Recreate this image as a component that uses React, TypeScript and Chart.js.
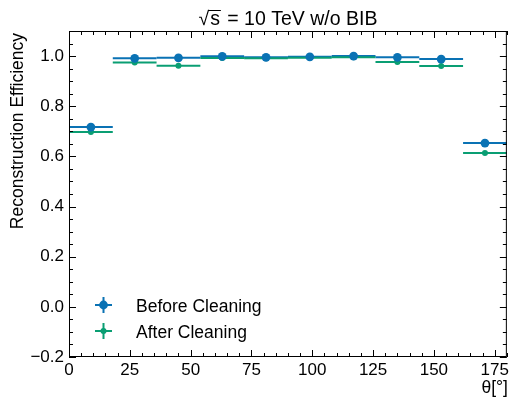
import React, { useEffect, useRef } from "react";
import { Chart, registerables } from "chart.js";
Chart.register(...registerables);

const binCenters = [9, 27, 45, 63, 81, 99, 117, 135, 153, 171];
const binHalfWidth = [9, 9, 9, 9, 9, 9, 9, 9, 9, 9];
const beforeCleaning = [0.717, 0.991, 0.993, 0.999, 0.995, 0.997, 1.0, 0.995, 0.988, 0.653];
const afterCleaning = [0.697, 0.974, 0.961, 0.992, 0.991, 0.993, 0.995, 0.976, 0.96, 0.613];
const xTickValues = [0, 25, 50, 75, 100, 125, 150, 175];
const yTickValues = [-0.2, 0, 0.2, 0.4, 0.6, 0.8, 1.0];

const BLUE = "#0a72b4";
const GREEN = "#0a9e73";
const FONT = "'Liberation Sans', Arial, sans-serif";

export default function App() {
  const ref = useRef<HTMLCanvasElement | null>(null);
  useEffect(() => {
    document.body.style.margin = "0";
    const canvas = ref.current!;
    const series = [
      { label: "Before Cleaning", data: beforeCleaning, color: BLUE, r: 4.4 },
      { label: "After Cleaning", data: afterCleaning, color: GREEN, r: 3 },
    ];
    const errorBars = {
      id: "errorBars",
      beforeDatasetsDraw(chart: any) {
        const ctx = chart.ctx;
        const xs = chart.scales.x;
        const ys = chart.scales.y;
        ctx.save();
        series.forEach((s) => {
          ctx.strokeStyle = s.color;
          ctx.lineWidth = 2;
          binCenters.forEach((c, i) => {
            const y = ys.getPixelForValue(s.data[i]);
            ctx.beginPath();
            ctx.moveTo(xs.getPixelForValue(c - binHalfWidth[i]), y);
            ctx.lineTo(xs.getPixelForValue(c + binHalfWidth[i]), y);
            ctx.stroke();
          });
        });
        ctx.restore();
      },
      afterDraw(chart: any) {
        const ctx = chart.ctx;
        const xs = chart.scales.x;
        const ys = chart.scales.y;
        const a = chart.chartArea;
        ctx.save();
        // frame
        ctx.strokeStyle = "#000";
        ctx.lineWidth = 1;
        ctx.strokeRect(a.left + 0.5, a.top + 0.5, a.right - a.left - 1, a.bottom - a.top - 1);
        // ticks
        ctx.beginPath();
        for (let v = 0; v <= 180; v += 5) {
          const x = Math.round(xs.getPixelForValue(v)) + 0.5;
          const len = v % 25 === 0 ? 7 : 4;
          ctx.moveTo(x, a.bottom);
          ctx.lineTo(x, a.bottom - len);
          ctx.moveTo(x, a.top);
          ctx.lineTo(x, a.top + len);
        }
        for (let k = -4; k <= 22; k++) {
          const v = k * 0.05;
          const y = Math.round(ys.getPixelForValue(v)) + 0.5;
          const len = k % 4 === 0 ? 7 : 4;
          ctx.moveTo(a.left, y);
          ctx.lineTo(a.left + len, y);
          ctx.moveTo(a.right, y);
          ctx.lineTo(a.right - len, y);
        }
        ctx.stroke();
        // title
        ctx.fillStyle = "#000";
        ctx.font = `19.5px ${FONT}`;
        ctx.textBaseline = "alphabetic";
        const p1 = "\u221As";
        const p2 = " = 10 TeV w/o BIB";
        const gap = 3;
        const w1 = ctx.measureText(p1).width + gap;
        const w2 = ctx.measureText(p2).width;
        const tx = (a.left + a.right) / 2 - (w1 + w2) / 2;
        const ty = 25;
        ctx.textAlign = "left";
        ctx.fillText("\u221A", tx, ty);
        const wr = ctx.measureText("\u221A").width;
        ctx.fillText("s", tx + wr + 1, ty);
        ctx.fillText(p2, tx + w1, ty);
        ctx.lineWidth = 1;
        ctx.beginPath();
        ctx.moveTo(tx + wr - 1, ty - 14.5);
        ctx.lineTo(tx + w1 - 1, ty - 14.5);
        ctx.stroke();
        // axis labels
        ctx.font = `17.5px ${FONT}`;
        ctx.textAlign = "right";
        ctx.textBaseline = "middle";
        ctx.fillText("\u03B8[\u00B0]", a.right + 1, 388);
        ctx.save();
        ctx.translate(18, a.top + 2);
        ctx.rotate(-Math.PI / 2);
        ctx.textAlign = "right";
        ctx.fillText("Reconstruction Efficiency", 0, 0);
        ctx.restore();
        // legend
        series.forEach((s, i) => {
          const lx = 103.5;
          const ly = 305 + i * 26;
          ctx.strokeStyle = s.color;
          ctx.lineWidth = 2;
          ctx.beginPath();
          ctx.moveTo(lx - 8.5, ly);
          ctx.lineTo(lx + 8.5, ly);
          ctx.moveTo(lx, ly - 8);
          ctx.lineTo(lx, ly + 8);
          ctx.stroke();
          ctx.fillStyle = s.color;
          ctx.beginPath();
          ctx.arc(lx, ly, s.r, 0, Math.PI * 2);
          ctx.fill();
          ctx.fillStyle = "#000";
          ctx.font = `17.5px ${FONT}`;
          ctx.textAlign = "left";
          ctx.textBaseline = "middle";
          ctx.fillText(s.label, 136, ly + 2);
        });
        ctx.restore();
      },
    };
    const chart = new Chart(canvas, {
      type: "scatter",
      data: {
        datasets: series.map((s) => ({
          label: s.label,
          data: binCenters.map((c, i) => ({ x: c, y: s.data[i] })),
          backgroundColor: s.color,
          borderColor: s.color,
          pointRadius: s.r,
          borderWidth: 0,
        })),
      },
      options: {
        animation: false,
        responsive: false,
        layout: { padding: { top: 31, right: 4, left: 0, bottom: 0 } },
        plugins: { legend: { display: false }, title: { display: false }, tooltip: { enabled: false } },
        scales: {
          x: {
            type: "linear",
            min: 0,
            max: 180,
            grid: { display: false, drawTicks: false },
            border: { display: false },
            afterBuildTicks: (s: any) => {
              s.ticks = xTickValues.map((v) => ({ value: v }));
            },
            afterFit: (s: any) => {
              s.height = 42;
            },
            ticks: {
              color: "#000",
              font: { family: FONT, size: 17 },
              padding: 3,
              maxRotation: 0,
              autoSkip: false,
              callback: (v: any) => String(v),
            },
          },
          y: {
            type: "linear",
            min: -0.2,
            max: 1.1,
            grid: { display: false, drawTicks: false },
            border: { display: false },
            afterBuildTicks: (s: any) => {
              s.ticks = yTickValues.map((v) => ({ value: v }));
            },
            afterFit: (s: any) => {
              s.width = 69;
            },
            ticks: {
              color: "#000",
              font: { family: FONT, size: 17 },
              padding: 5,
              autoSkip: false,
              callback: (v: any) => Number(v).toFixed(1).replace("-", "\u2212"),
            },
          },
        },
      },
      plugins: [errorBars],
    });
    return () => chart.destroy();
  }, []);
  return <canvas ref={ref} width={512} height={399} style={{ display: "block" }} />;
}
